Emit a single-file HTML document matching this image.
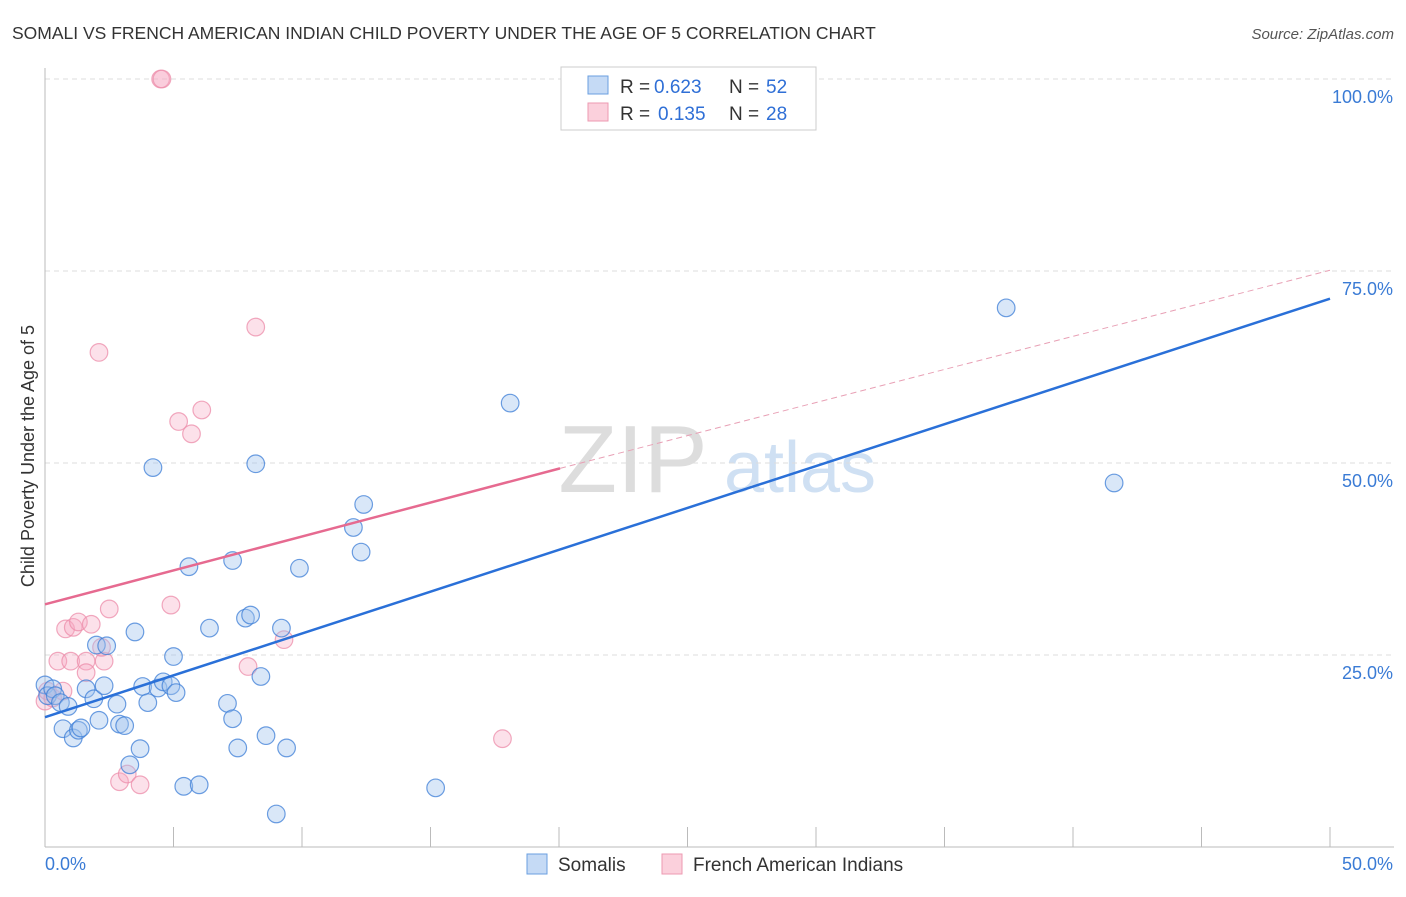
<!DOCTYPE html>
<html><head><meta charset="utf-8"><style>
body{margin:0;background:#fff;font-family:"Liberation Sans",sans-serif;}
svg text{font-family:"Liberation Sans",sans-serif;}
</style></head><body>
<svg id="c" width="1406" height="892">
<text x="12" y="39" font-size="17.5" fill="#333">SOMALI VS FRENCH AMERICAN INDIAN CHILD POVERTY UNDER THE AGE OF 5 CORRELATION CHART</text>
<text x="1394" y="39" font-size="15" fill="#555" font-style="italic" text-anchor="end">Source: ZipAtlas.com</text>
<text x="633" y="492" font-size="96" fill="#ddd" font-family="Liberation Serif" text-anchor="middle">ZIP</text>
<text x="800" y="492" font-size="72" fill="#cfe0f3" text-anchor="middle">atlas</text>
<text transform="translate(34,456) rotate(-90)" font-size="18" fill="#333" text-anchor="middle">Child Poverty Under the Age of 5</text>
<g id="grid"></g><g id="marks"></g>
<g>
<rect x="561" y="67" width="255" height="63" fill="#fff" stroke="#ccc"/>
<rect x="588" y="76" width="20" height="18" fill="#c5daf5" stroke="#6a9fe0"/>
<rect x="588" y="103" width="20" height="18" fill="#fbd0dc" stroke="#ec9ab2"/>
<text x="620" y="93" font-size="19" fill="#333">R =</text><text x="654" y="93" font-size="19" fill="#2f6fd6">0.623</text>
<text x="729" y="93" font-size="19" fill="#333">N =</text><text x="766" y="93" font-size="19" fill="#2f6fd6">52</text>
<text x="620" y="120" font-size="19" fill="#333">R =</text><text x="658" y="120" font-size="19" fill="#2f6fd6">0.135</text>
<text x="729" y="120" font-size="19" fill="#333">N =</text><text x="766" y="120" font-size="19" fill="#2f6fd6">28</text>
</g>
<g>
<rect x="527" y="854" width="20" height="20" fill="#c5daf5" stroke="#6a9fe0"/>
<text x="558" y="871" font-size="19" fill="#333">Somalis</text>
<rect x="662" y="854" width="20" height="20" fill="#fbd0dc" stroke="#ec9ab2"/>
<text x="693" y="871" font-size="19" fill="#333">French American Indians</text>
</g>
</svg>
<script>
const xTicks=[0,5,10,15,20,25,30,35,40,45,50];
const yTicks=[25,50,75,100];
const blueX=[0,0.1,0.3,0.4,0.6,0.9,0.7,1.1,1.3,1.4,1.6,1.9,2.0,2.3,2.4,2.1,2.8,2.9,3.1,3.3,3.5,3.7,3.8,4.0,4.2,4.4,4.6,4.9,5.0,5.1,5.4,5.6,6.0,6.4,7.1,7.3,7.3,7.5,7.8,8.0,8.2,8.4,8.6,9.0,9.2,9.4,9.9,12.0,12.3,12.4,15.2,18.1,37.4,41.6];
const blueY=[21.1,19.7,20.6,19.7,18.8,18.3,15.4,14.2,15.2,15.5,20.6,19.3,26.3,21.0,26.2,16.5,18.6,16.0,15.8,10.7,28.0,12.8,20.9,18.8,49.4,20.7,21.5,21.0,24.8,20.1,7.9,36.5,8.1,28.5,18.7,37.3,16.7,12.9,29.8,30.2,49.9,22.2,14.5,4.3,28.5,12.9,36.3,41.6,38.4,44.6,7.7,57.8,70.2,47.4];
const pinkX=[0,0.1,0.3,0.7,0.5,0.8,1.1,1.3,1.8,1.0,1.6,1.6,2.3,2.1,2.5,2.2,2.9,3.2,3.7,4.5,4.55,4.9,5.2,5.7,6.1,7.9,8.2,9.3,17.8];
const pinkY=[19.0,20.3,19.4,20.3,24.2,28.4,28.6,29.3,29.0,24.2,24.2,22.7,24.2,64.4,31.0,26.0,8.5,9.5,8.1,100,100,31.5,55.4,53.8,56.9,23.5,67.7,27.0,14.1];
const blueLine=[[0,16.9],[50,71.4]];
const pinkLine=[[0,31.6],[20.04,49.3]];
const pinkDash=[[20.04,49.3],[50,75.1]];
const X=v=>45+v*25.7, Y=v=>847-v*7.68;
const NS="http://www.w3.org/2000/svg";
function mk(t,a,p){const e=document.createElementNS(NS,t);for(const k in a)e.setAttribute(k,a[k]);p.appendChild(e);return e;}
const g=document.getElementById('grid'),m=document.getElementById('marks');
yTicks.forEach(t=>{
 const l=mk('line',{x1:45,x2:1394,y1:Y(t),y2:Y(t),stroke:'#ddd','stroke-dasharray':'5,4'},g);
 
 
 const tx=mk('text',{x:1393,y:Y(t)+24,'font-size':18,fill:'#3a7bd5','text-anchor':'end'},g);
 tx.textContent=t.toFixed(1)+'%';
 
 
});
mk('line',{x1:45,x2:45,y1:68,y2:847,stroke:'#bbb'},g);
mk('line',{x1:45,x2:1394,y1:847,y2:847,stroke:'#bbb'},g);
xTicks.forEach(t=>{
 const l=mk('line',{x1:X(t),x2:X(t),y1:827,y2:847,stroke:'#bbb'},g);
 
 
});
[[0,'start',45],[50,'end',1393]].forEach(([v,a,x])=>{
 const tx=mk('text',{x:x,y:870,'font-size':18,fill:'#3a7bd5','text-anchor':a},g);
 tx.textContent=v.toFixed(1)+'%';
 
 
});
pinkX.forEach((v,i)=>{
 const c=mk('circle',{cx:X(v),cy:Y(pinkY[i]),r:8.8,fill:'rgba(246,170,195,0.35)',stroke:'rgba(236,140,170,0.75)','stroke-width':1.2},m);
 
 
});
blueX.forEach((v,i)=>{
 const c=mk('circle',{cx:X(v),cy:Y(blueY[i]),r:8.8,fill:'rgba(160,195,238,0.4)',stroke:'rgba(60,125,215,0.75)','stroke-width':1.2},m);
 
 
});
const bl=mk('line',{x1:X(blueLine[0][0]),y1:Y(blueLine[0][1]),x2:X(blueLine[1][0]),y2:Y(blueLine[1][1]),stroke:'#2a70d8','stroke-width':2.5},m);


const pl=mk('line',{x1:X(pinkLine[0][0]),y1:Y(pinkLine[0][1]),x2:X(pinkLine[1][0]),y2:Y(pinkLine[1][1]),stroke:'#e66a90','stroke-width':2.5},m);


const pd=mk('line',{x1:X(pinkDash[0][0]),y1:Y(pinkDash[0][1]),x2:X(pinkDash[1][0]),y2:Y(pinkDash[1][1]),stroke:'#e8a0b5','stroke-width':1,'stroke-dasharray':'6,4'},m);


</script>
</body></html>
